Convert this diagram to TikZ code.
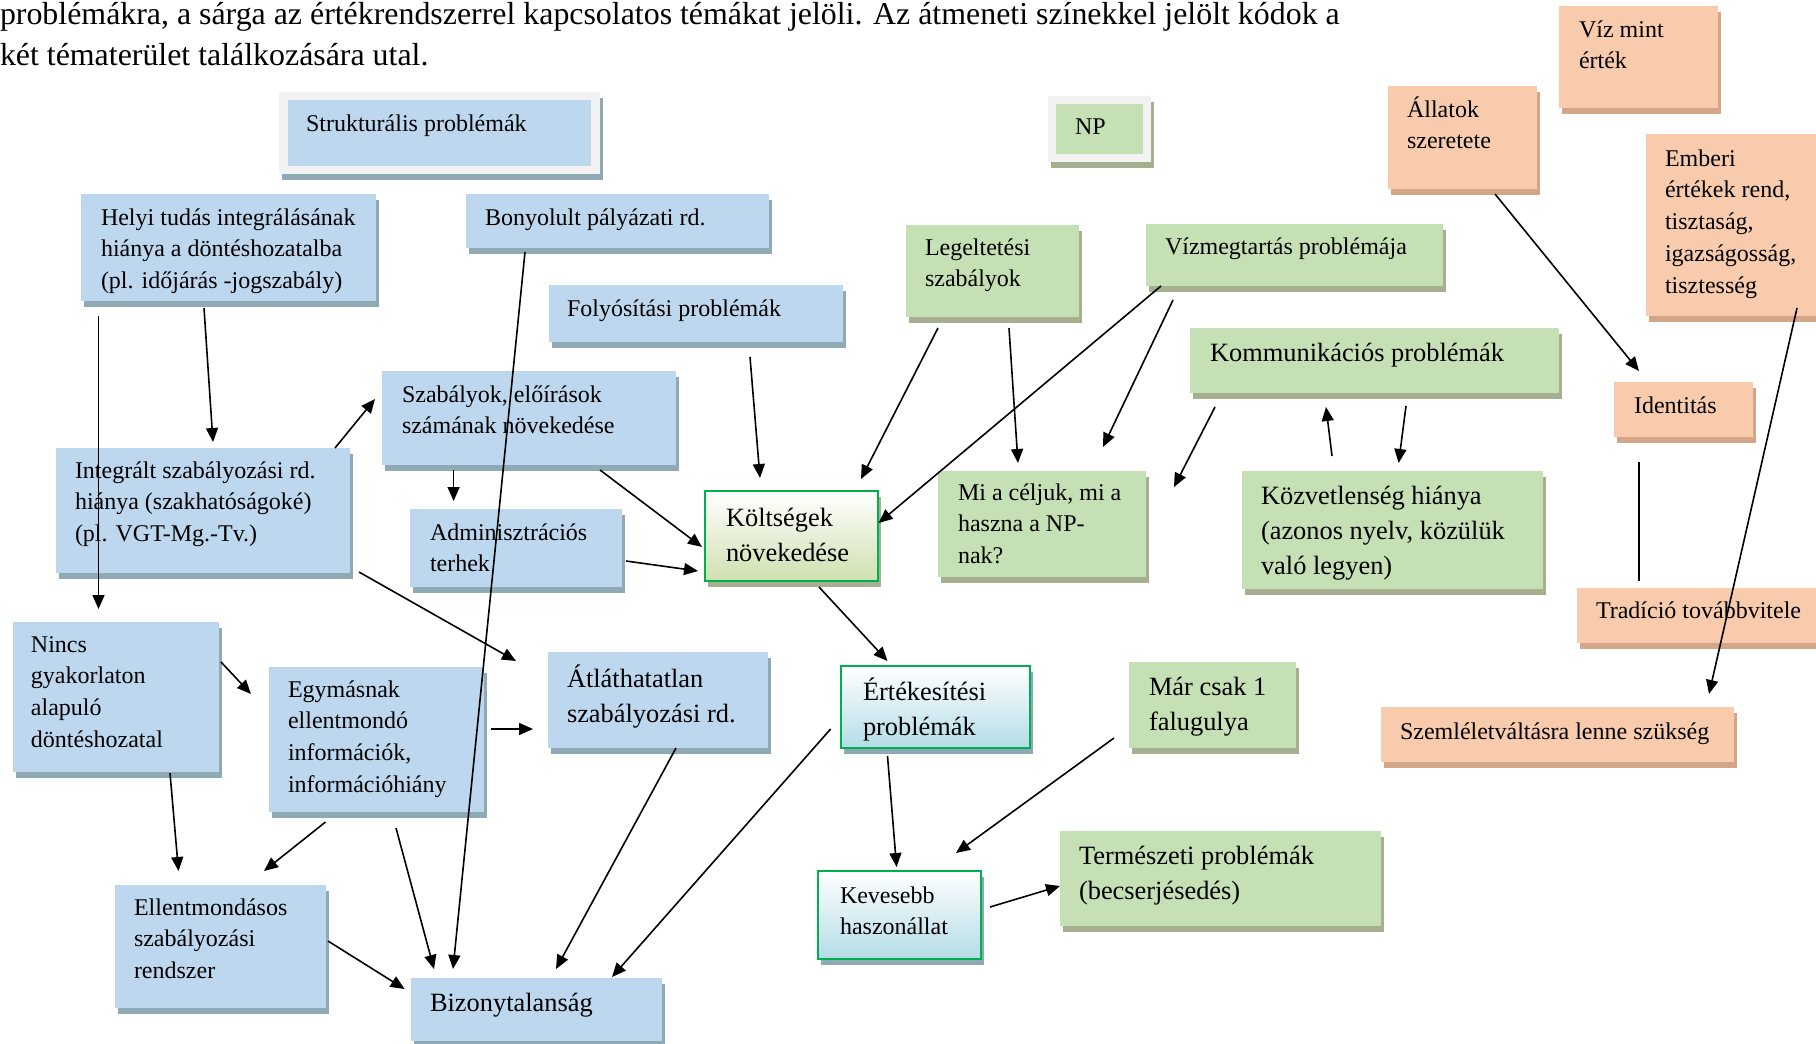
\documentclass[tikz,border=0pt]{standalone}
\usepackage{fontspec}
\setmainfont{Liberation Serif}
\usetikzlibrary{shadows,arrows.meta}
\definecolor{bfill}{HTML}{BDD7EE}
\definecolor{bshad}{HTML}{8FA9B5}
\definecolor{gfill}{HTML}{C5E0B4}
\definecolor{gshad}{HTML}{A6AF90}
\definecolor{ofill}{HTML}{F8CBAD}
\definecolor{oshad}{HTML}{D3A688}
\definecolor{framec}{HTML}{F2F2F2}
\definecolor{gborder}{HTML}{00B050}
\definecolor{gradg}{HTML}{CFE0B0}
\definecolor{gradb}{HTML}{B4DCE7}
\newcommand{\fsmall}{\fontsize{12}{15.9}\selectfont}
\newcommand{\flarge}{\fontsize{13.2}{17.6}\selectfont}
\newcommand{\ftop}{\fontsize{15.94}{20.2}\selectfont}
\newcommand{\bx}[6]{%
  \pgfmathsetlengthmacro\bxw{0.5pt*((#5)-(#3))}%
  \pgfmathsetlengthmacro\bxh{0.5pt*((#6)-(#4))}%
  \node[#1, anchor=north west, inner sep=0pt, outer sep=0pt, minimum width=\bxw, minimum height=\bxh] (#2) at (#3,#4) {};%
}
\newcommand{\tsm}[4]{\node[lbl, font=\fsmall] (#1) at (#2,#3-24) {\rule{0pt}{12pt}#4};}
\newcommand{\tlg}[4]{\node[lbl, font=\flarge] (#1) at (#2,#3-26) {\rule{0pt}{13pt}#4};}
\tikzset{
  lbl/.style={anchor=north west, inner sep=0pt, outer sep=0pt, align=left},
  shb/.style={drop shadow={shadow xshift=1.5pt, shadow yshift=-3pt, opacity=1, fill=bshad}},
  shg/.style={drop shadow={shadow xshift=1.5pt, shadow yshift=-3pt, opacity=1, fill=gshad}},
  sho/.style={drop shadow={shadow xshift=1.5pt, shadow yshift=-3pt, opacity=1, fill=oshad}},
  bluebox/.style={fill=bfill, shb},
  greenbox/.style={fill=gfill, shg},
  orangebox/.style={fill=ofill, sho},
  bframe/.style={fill=framec, shb},
  gframe/.style={fill=framec, shg},
  inblue/.style={fill=bfill},
  ingreen/.style={fill=gfill},
  gradgreen/.style={top color=white, bottom color=gradg, draw=gborder, line width=1.2pt, shg},
  gradblue/.style={top color=white, bottom color=gradb, draw=gborder, line width=1.2pt, shb},
  arr/.style={-{Triangle[length=7pt,width=6pt]}, line width=0.8pt},
  plain/.style={line width=0.8pt}
}
\begin{document}
\begin{tikzpicture}[x=0.5pt,y=-0.5pt]
\useasboundingbox (0,0) rectangle (1816,1044);
\clip (0,0) rectangle (1816,1044);

% ---------- top text ----------
\node[lbl, font=\ftop] (intro) at (0,25-32) {\rule{0pt}{16pt}problémákra, a sárga az értékrendszerrel kapcsolatos témákat jelöli. Az átmeneti színekkel jelölt kódok a\\két tématerület találkozására utal.};

% ---------- boxes ----------
\bx{bframe}{strukt}{279}{92}{600}{174}
\bx{inblue}{struktin}{288}{100}{591}{166}
\bx{gframe}{np}{1048}{96}{1151}{162}
\bx{ingreen}{npin}{1056}{104}{1143}{154}

\bx{bluebox}{helyi}{81}{194}{376}{301}
\bx{bluebox}{bony}{466}{194}{769}{248}
\bx{bluebox}{foly}{549}{285}{843}{342}
\bx{bluebox}{szab}{382}{371}{676}{465}
\bx{bluebox}{integ}{56}{448}{350}{573}
\bx{bluebox}{admin}{410}{509}{622}{587}
\bx{bluebox}{nincs}{13}{622}{219}{772}
\bx{bluebox}{egym}{269}{667}{484}{812}
\bx{bluebox}{atl}{548}{652}{768}{748}
\bx{bluebox}{ellent}{115}{885}{326}{1008}
\bx{bluebox}{bizony}{411}{978}{662}{1041}

\bx{gradgreen}{kolt}{705}{491}{878}{581}
\bx{gradblue}{ertek}{841}{666}{1030}{748}
\bx{gradblue}{keves}{818}{871}{981}{959}

\bx{greenbox}{leg}{906}{225}{1079}{317}
\bx{greenbox}{vizm}{1146}{224}{1443}{286}
\bx{greenbox}{komm}{1190}{328}{1559}{393}
\bx{greenbox}{mi}{938}{471}{1146}{577}
\bx{greenbox}{kozv}{1242}{471}{1543}{589}
\bx{greenbox}{mar}{1129}{662}{1296}{748}
\bx{greenbox}{term}{1060}{831}{1381}{926}

\bx{orangebox}{vizmint}{1559}{6}{1718}{108}
\bx{orangebox}{allat}{1388}{86}{1537}{189}
\bx{orangebox}{emberi}{1646}{134}{1830}{316}
\bx{orangebox}{ident}{1614}{382}{1753}{437}
\bx{orangebox}{trad}{1577}{588}{1830}{643}
\bx{orangebox}{szeml}{1381}{707}{1734}{762}

% ---------- texts ----------
\tsm{strukt-t}{306}{131}{Strukturális problémák}
\tsm{helyi-t}{101}{225}{Helyi tudás integrálásának\\hiánya a döntéshozatalba\\(pl. időjárás -jogszabály)}
\tsm{bony-t}{485}{225}{Bonyolult pályázati rd.}
\tsm{foly-t}{567}{316}{Folyósítási problémák}
\tsm{szab-t}{402}{402}{Szabályok, előírások\\számának növekedése}
\tsm{integ-t}{75}{478}{Integrált szabályozási rd.\\hiánya (szakhatóságoké)\\(pl. VGT-Mg.-Tv.)}
\tsm{admin-t}{430}{540}{Adminisztrációs\\terhek}
\tsm{nincs-t}{31}{652}{Nincs\\gyakorlaton\\alapuló\\döntéshozatal}
\tsm{egym-t}{288}{697}{Egymásnak\\ellentmondó\\információk,\\információhiány}
\tsm{ellent-t}{134}{915}{Ellentmondásos\\szabályozási\\rendszer}
\tsm{keves-t}{840}{903}{Kevesebb\\haszonállat}
\tsm{np-t}{1075}{134}{NP}
\tsm{leg-t}{925}{255}{Legeltetési\\szabályok}
\tsm{vizm-t}{1165}{254}{Vízmegtartás problémája}
\tsm{mi-t}{958}{500}{Mi a céljuk, mi a\\haszna a NP-\\nak?}
\tsm{vizmint-t}{1579}{37}{Víz mint\\érték}
\tsm{allat-t}{1407}{117}{Állatok\\szeretete}
\tsm{emberi-t}{1665}{166}{Emberi\\értékek rend,\\tisztaság,\\igazságosság,\\tisztesség}
\tsm{ident-t}{1634}{413}{Identitás}
\tsm{trad-t}{1596}{618}{Tradíció továbbvitele}
\tsm{szeml-t}{1400}{739}{Szemléletváltásra lenne szükség}

\tlg{kolt-t}{726}{526}{Költségek\\növekedése}
\tlg{atl-t}{567}{687}{Átláthatatlan\\szabályozási rd.}
\tlg{bizony-t}{430}{1011}{Bizonytalanság}
\tlg{ertek-t}{863}{700}{Értékesítési\\problémák}
\tlg{mar-t}{1149}{695}{Már csak 1\\falugulya}
\tlg{term-t}{1079}{864}{Természeti problémák\\(becserjésedés)}
\tlg{komm-t}{1210}{361}{Kommunikációs problémák}
\tlg{kozv-t}{1261}{504}{Közvetlenség hiánya\\(azonos nyelv, közülük\\való legyen)}

% ---------- connector end points ----------
\coordinate (helyi-o) at (204,308);   \coordinate (integ-i) at (213,442);
\coordinate (left-o) at (98.5,316);   \coordinate (nincs-i) at (98.5,609);
\coordinate (integ-o1) at (335,448);  \coordinate (szab-i) at (375,399);
\coordinate (szab-o1) at (453.6,470); \coordinate (admin-i) at (453.6,501);
\coordinate (szab-o2) at (600,470);   \coordinate (kolt-i1) at (702,547);
\coordinate (admin-o) at (626,561);   \coordinate (kolt-i2) at (698,571);
\coordinate (foly-o) at (750,357);    \coordinate (kolt-i3) at (760,478);
\coordinate (bony-o) at (525,252);    \coordinate (biz-i1) at (453,969);
\coordinate (integ-o2) at (359,572);  \coordinate (atl-i1) at (516,661);
\coordinate (nincs-o1) at (221,662);  \coordinate (egym-i) at (251,694);
\coordinate (egym-o1) at (491,729);   \coordinate (atl-i2) at (533,729);
\coordinate (nincs-o2) at (170,773);  \coordinate (ellent-i1) at (178.5,871);
\coordinate (egym-o2) at (325.5,822); \coordinate (ellent-i2) at (264,871);
\coordinate (egym-o3) at (396,828);   \coordinate (biz-i2) at (434,969);
\coordinate (ellent-o) at (328,941);  \coordinate (biz-i3) at (404.6,989);
\coordinate (atl-o) at (676,748);     \coordinate (biz-i4) at (556,969);
\coordinate (ertek-o1) at (830.6,729);\coordinate (biz-i5) at (612,977);
\coordinate (kolt-o) at (819,587);    \coordinate (ertek-i) at (887.5,661);
\coordinate (ertek-o2) at (887.5,756);\coordinate (keves-i1) at (896.6,867);
\coordinate (mar-o) at (1114,738);    \coordinate (keves-i2) at (956,853);
\coordinate (keves-o) at (990,907);   \coordinate (term-i) at (1060,886);
\coordinate (leg-o1) at (938,328);    \coordinate (kolt-i4) at (861,479);
\coordinate (leg-o2) at (1009,328);   \coordinate (mi-i1) at (1018,463);
\coordinate (vizm-o1) at (1161,286);  \coordinate (kolt-i5) at (878.6,523);
\coordinate (vizm-o2) at (1173,300);  \coordinate (mi-i2) at (1103,447);
\coordinate (komm-o1) at (1215,407);  \coordinate (mi-i3) at (1174,487);
\coordinate (kozv-o) at (1332,456);   \coordinate (komm-i) at (1326,407);
\coordinate (komm-o2) at (1406,406);  \coordinate (kozv-i) at (1398.6,463);
\coordinate (allat-o) at (1495,194);  \coordinate (ident-i) at (1639,371);
\coordinate (ident-o) at (1639,462);  \coordinate (trad-i) at (1639,581);
\coordinate (emberi-o) at (1797,308); \coordinate (szeml-i) at (1709,694);

% ---------- connectors ----------
\draw[arr] (helyi-o) -- (integ-i);
\draw[arr] (left-o) -- (nincs-i);
\draw[arr] (integ-o1) -- (szab-i);
\draw[arr] (szab-o1) -- (admin-i);
\draw[arr] (szab-o2) -- (kolt-i1);
\draw[arr] (admin-o) -- (kolt-i2);
\draw[arr] (foly-o) -- (kolt-i3);
\draw[arr] (bony-o) -- (biz-i1);
\draw[arr] (integ-o2) -- (atl-i1);
\draw[arr] (nincs-o1) -- (egym-i);
\draw[arr] (egym-o1) -- (atl-i2);
\draw[arr] (nincs-o2) -- (ellent-i1);
\draw[arr] (egym-o2) -- (ellent-i2);
\draw[arr] (egym-o3) -- (biz-i2);
\draw[arr] (ellent-o) -- (biz-i3);
\draw[arr] (atl-o) -- (biz-i4);
\draw[arr] (ertek-o1) -- (biz-i5);
\draw[arr] (kolt-o) -- (ertek-i);
\draw[arr] (ertek-o2) -- (keves-i1);
\draw[arr] (mar-o) -- (keves-i2);
\draw[arr] (keves-o) -- (term-i);
\draw[arr] (leg-o1) -- (kolt-i4);
\draw[arr] (leg-o2) -- (mi-i1);
\draw[arr] (vizm-o1) -- (kolt-i5);
\draw[arr] (vizm-o2) -- (mi-i2);
\draw[arr] (komm-o1) -- (mi-i3);
\draw[arr] (kozv-o) -- (komm-i);
\draw[arr] (komm-o2) -- (kozv-i);
\draw[arr] (allat-o) -- (ident-i);
\draw[plain] (ident-o) -- (trad-i);
\draw[arr] (emberi-o) -- (szeml-i);
\end{tikzpicture}
\end{document}
